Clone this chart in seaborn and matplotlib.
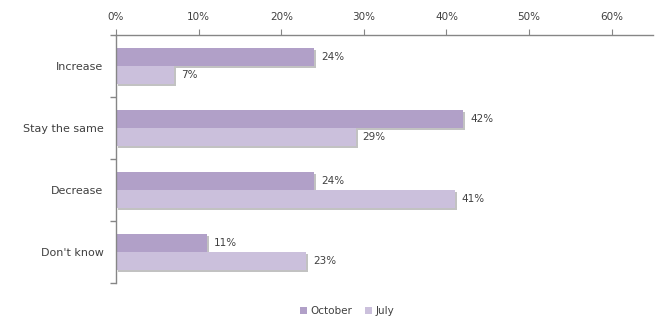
import matplotlib
matplotlib.use("Agg")
import matplotlib.pyplot as plt
import matplotlib.patheffects as pe
import seaborn as sns
import pandas as pd
import numpy as np

categories = ["Increase", "Stay the same", "Decrease", "Don't know"]
series = ["October", "July"]
october = [24, 42, 24, 11]
july = [7, 29, 41, 23]
x_ticks = [0, 10, 20, 30, 40, 50, 60]

colors = {"October": "#b1a0c8", "July": "#cbc0dc"}
text_color = "#404040"
axis_color = "#868686"

df = pd.DataFrame({
    "category": categories * 2,
    "series": ["October"] * 4 + ["July"] * 4,
    "value": october + july,
})

sns.set_style("white")
plt.rcParams["font.family"] = ["DejaVu Sans"]

fig = plt.figure(figsize=(6.67, 3.33), dpi=100)
ax = fig.add_axes([0.174, 0.150, 0.805, 0.745])

sns.barplot(data=df, y="category", x="value", hue="series", order=categories,
            hue_order=series, palette=colors, orient="h", width=0.58,
            saturation=1, ax=ax, legend=False)

shadow = [pe.SimplePatchShadow(offset=(1.5, -1.5), shadow_rgbFace="#9a9a9a", alpha=0.6),
          pe.Normal()]
for patch in ax.patches:
    patch.set_edgecolor("none")
    patch.set_path_effects(shadow)

for container in ax.containers:
    ax.bar_label(container, labels=[f"{v:.0f}%" for v in container.datavalues],
                 padding=5, fontsize=7.5, color=text_color)

ax.set_xlim(0, 65)
ax.set_ylim(3.5, -0.5)
ax.set_xticks(x_ticks)
ax.set_xticklabels([f"{t}%" for t in x_ticks])
ax.xaxis.tick_top()
ax.tick_params(axis="x", direction="out", length=4, color=axis_color,
               labelsize=7.5, labelcolor=text_color, pad=5)
ax.set_yticks(range(len(categories)))
ax.set_yticklabels(categories)
ax.tick_params(axis="y", which="major", left=True, length=0, labelsize=8,
               labelcolor=text_color, pad=9)
ax.set_yticks(np.arange(-0.5, 4.0, 1.0), minor=True)
ax.tick_params(axis="y", which="minor", left=True, direction="out", length=4,
               width=1, color=axis_color)

ax.set_xlabel("")
ax.set_ylabel("")
for side in ["right", "bottom"]:
    ax.spines[side].set_visible(False)
for side in ["top", "left"]:
    ax.spines[side].set_color(axis_color)
    ax.spines[side].set_linewidth(1)

handles = [plt.Rectangle((0, 0), 1, 1, facecolor=colors[s], edgecolor="none") for s in series]
fig.legend(handles, series, loc="center", bbox_to_anchor=(0.52, 0.066), ncol=2,
           frameon=False, fontsize=7.5, handlelength=0.7, handleheight=0.7,
           handletextpad=0.3, columnspacing=1.2, labelcolor=text_color)

fig.savefig("out.png", dpi=100)
